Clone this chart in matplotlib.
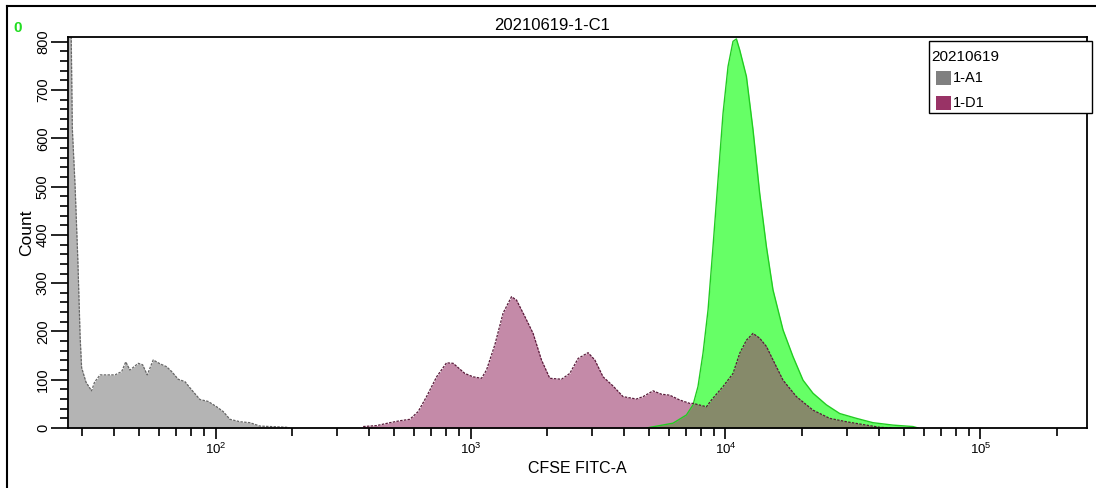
import math
import matplotlib
matplotlib.use('Agg')
import matplotlib.pyplot as plt
from matplotlib.lines import Line2D
from matplotlib.patches import Rectangle
from matplotlib.ticker import LogLocator, MultipleLocator, FuncFormatter, NullFormatter

plt.rcParams['font.family'] = ['Liberation Sans', 'DejaVu Sans']

# values (CFSE FITC-A intensity, count)
a1_x = [26.4, 27.0, 27.4, 28.1, 28.8, 29.4, 29.8, 31.0, 32.6, 33.5, 35.2, 40.3, 42.8, 44.4, 46.1,
        49.7, 51.7, 53.9, 56.9, 60.5, 64.2, 67.2, 71.3, 75.8, 80.5, 86.8, 93.5, 100.9, 107.1,
        113.8, 124.6, 136.3, 149.2, 189.9, 195]
a1_y = [950, 900, 620, 500, 348, 189, 125, 95, 77, 95, 110, 110, 117, 137, 120,
        134, 131, 110, 141, 133, 127, 117, 101, 96, 79, 59, 55, 44, 34,
        18, 13, 11, 4, 1.5, 0]

d1_x = [379, 428, 483, 528, 578, 623, 672, 736, 805, 855, 950, 1024, 1104, 1155, 1245, 1342,
        1448, 1515, 1633, 1760, 1898, 2046, 2275, 2451, 2642, 2892, 3073, 3311, 3624, 3966,
        4477, 4753, 5202, 5611, 6047, 6620, 7244, 7464, 8424, 8813, 9787, 10710, 11380,
        12090, 12830, 13630, 14480, 15370, 16830, 18990, 22060, 25640, 29820, 35720,
        40290, 45000]
d1_y = [3, 5, 11, 15, 18, 34, 65, 106, 135, 134, 113, 106, 103, 120, 172, 238,
        272, 265, 231, 196, 141, 103, 101, 113, 144, 156, 141, 106, 87, 65,
        60, 65, 77, 70, 68, 58, 51, 51, 44, 58, 86, 113, 155,
        182, 196, 186, 169, 141, 99, 65, 37, 20, 13, 6,
        1.5, 0]

c1_x = [4900, 6230, 7031, 7464, 7806, 8168, 8549, 8941, 9354, 9787, 10240, 10710, 11044,
        11380, 12090, 12830, 13630, 14480, 15370, 16830, 18410, 20160, 22060, 24890,
        28070, 32640, 37920, 45420, 54420, 57000]
c1_y = [0, 10, 27, 48, 86, 155, 245, 376, 514, 652, 749, 801, 806,
        783, 728, 618, 486, 376, 286, 203, 148, 99, 72, 48,
        30, 20, 11, 6, 3, 0]

legend_names = ['1-A1', '1-D1']
legend_colors = ['#808080', '#993366']

fig = plt.figure(figsize=(10.96, 4.88), dpi=100)
ax = fig.add_axes([68 / 1096, 60 / 488, 1019 / 1096, 391 / 488])

# green sample first, the other two semi-transparent on top
ax.fill_between(c1_x, c1_y, color='#66ff66', lw=0)
ax.plot(c1_x, c1_y, color='#22cc22', lw=1)
ax.fill_between(a1_x, a1_y, color='#828282', alpha=0.6, lw=0)
ax.plot(a1_x, a1_y, color='#666666', lw=0.9, ls=(0, (2, 1)))
ax.fill_between(d1_x, d1_y, color='#9d3c6e', alpha=0.6, lw=0)
ax.plot(d1_x, d1_y, color='#5a1a3a', lw=0.9, ls=(0, (2, 1)))

ax.set_xscale('log')
ax.set_xlim(26.35, 262144)
ax.set_ylim(0, 810)

ax.xaxis.set_major_locator(LogLocator(base=10, numticks=10))
ax.xaxis.set_minor_locator(LogLocator(base=10, subs=range(2, 10), numticks=50))
ax.xaxis.set_major_formatter(FuncFormatter(lambda v, p: r'$\mathregular{10^{%d}}$' % round(math.log10(v))))
ax.xaxis.set_minor_formatter(NullFormatter())
ax.yaxis.set_major_locator(MultipleLocator(100))
ax.yaxis.set_minor_locator(MultipleLocator(20))

ax.tick_params(axis='x', which='major', length=8, width=1.2, labelsize=9.5, pad=2)
ax.tick_params(axis='x', which='minor', length=6, width=1.2)
ax.tick_params(axis='y', which='major', length=12, width=1.2, labelsize=10.5, pad=1)
ax.tick_params(axis='y', which='minor', length=6, width=1.2)
for lab in ax.get_yticklabels():
    lab.set_rotation(90)
    lab.set_va('center')
for sp in ax.spines.values():
    sp.set_linewidth(1.3)

ax.set_xlabel('CFSE FITC-A', fontsize=11.5, labelpad=3)
ax.set_ylabel('Count', fontsize=12.5, labelpad=1)

fig.text(552 / 1096, 1 - 25 / 488, '20210619-1-C1', ha='center', va='center', fontsize=12)
fig.text(13 / 1096, 1 - 28 / 488, '0', color='#22dd22', fontweight='bold', fontsize=11, va='center')

# outer frame
fig.add_artist(Line2D([7 / 1096, 1], [1 - 6 / 488, 1 - 6 / 488], color='black', lw=1.5))
fig.add_artist(Line2D([7 / 1096, 7 / 1096], [0, 1 - 6 / 488], color='black', lw=1.5))

# legend box
W, H = 1096, 488
fig.add_artist(Rectangle((929 / W, 1 - 113 / H), 163 / W, 72 / H, transform=fig.transFigure,
                         facecolor='white', edgecolor='black', lw=1))
fig.text(931 / W, 1 - 57 / H, '20210619', fontsize=11, va='center')
for i, (name, col) in enumerate(zip(legend_names, legend_colors)):
    yc = 78 + 25 * i
    fig.add_artist(Rectangle((936 / W, 1 - (yc + 7) / H), 15 / W, 14 / H, transform=fig.transFigure,
                             facecolor=col, edgecolor='none'))
    fig.text(953 / W, 1 - yc / H, name, fontsize=10.5, va='center')

fig.savefig('out.png', dpi=100)
